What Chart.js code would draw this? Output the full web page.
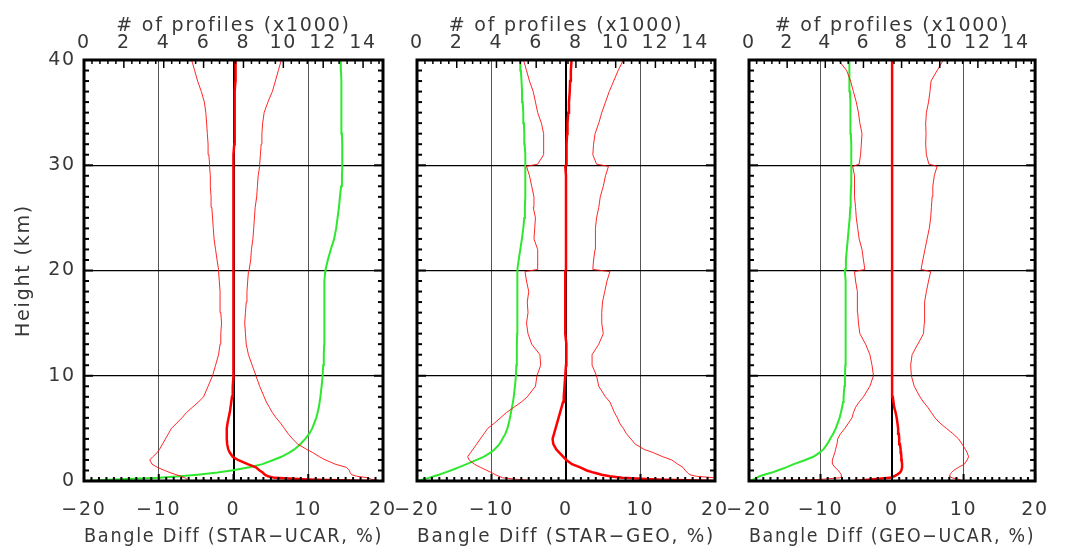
<!DOCTYPE html>
<html>
<head>
<meta charset="utf-8">
<script src="https://cdn.jsdelivr.net/npm/chart.js@4.4.0/dist/chart.umd.min.js"></script>
<style>
html,body{margin:0;padding:0;background:#fff;}
#wrap{position:relative;width:1067px;height:553px;overflow:hidden;}
canvas{position:absolute;left:0;top:0;}
</style>
</head>
<body>
<div id="wrap">
<canvas id="c0" width="1067" height="553"></canvas>
<canvas id="c1" width="1067" height="553"></canvas>
<canvas id="c2" width="1067" height="553"></canvas>
</div>
<script>
// ---------- DATA ----------
const HEIGHTS = [0,0.15,0.3,0.45,0.6,0.8,1.0,1.3,1.6,2.0,
 2.3,2.7,3.0,3.5,4.0,4.5,5.0,5.5,6.0,6.5,
 7.0,7.5,8.0,9,10,11,12,13,14,15,
 16,17,18,19,19.9,20.1,21,22,23,24,
 25,26,27,28,29,29.9,30.1,31,32,33,
 34,35,36,37,38,39,40];

const X_TICK_LABELS_TOP = [0,2,4,6,8,10,12,14];

const X_TITLES = ['Bangle Diff (STAR\u2212UCAR, %)','Bangle Diff (STAR\u2212GEO, %)','Bangle Diff (GEO\u2212UCAR, %)'];
const TOP_TITLE = '# of profiles (x1000)';
const Y_TITLE = 'Height (km)';

// STAR-UCAR
const SU_COUNT = [0,1.5,3.8,4.8,5.7,6.7,7.4,8.3,8.95,9.5,
 9.9,10.3,10.55,10.85,11.1,11.3,11.45,11.55,11.65,11.72,
 11.78,11.82,11.86,11.92,11.97,12.0,12.03,12.05,12.05,12.05,
 12.05,12.06,12.07,12.08,12.1,12.12,12.23,12.38,12.55,12.65,
 12.72,12.79,12.84,12.9,12.94,12.96,12.96,12.96,12.95,12.94,
 12.93,12.92,12.91,12.9,12.9,12.89,12.88];
const SU_LO = [-6.0,-6.2,-6.5,-7.0,-7.7,-8.5,-9.2,-10.2,-10.9,-11.2,
 -10.8,-10.2,-9.9,-9.5,-9.1,-8.7,-8.3,-7.6,-6.9,-6.3,
 -5.5,-4.7,-4.0,-3.4,-2.8,-2.4,-2.0,-1.8,-1.7,-1.6,
 -1.7,-1.8,-1.8,-1.9,-2.0,-2.0,-2.2,-2.4,-2.6,-2.7,
 -2.8,-2.9,-3.0,-3.1,-3.1,-3.2,-3.2,-3.3,-3.4,-3.5,
 -3.6,-3.7,-3.9,-4.3,-4.8,-5.2,-5.6];
const SU_HI = [20,18.5,18.0,16.5,15.8,15.6,15.5,15.1,13.6,12.3,
 11.5,10.6,9.8,8.6,7.9,7.3,6.8,6.3,5.7,5.2,
 4.8,4.4,4.1,3.5,3.0,2.5,2.0,1.7,1.6,1.5,
 1.6,1.7,1.8,1.9,2.0,2.1,2.3,2.4,2.6,2.7,
 2.8,2.9,3.1,3.2,3.3,3.5,3.5,3.6,3.7,3.8,
 3.9,4.1,4.6,5.2,5.6,6.0,6.4];
const SU_MEAN = [18,10,5.5,4.6,4.2,3.9,3.5,3.0,1.9,0.6,
 -0.1,-0.5,-0.7,-0.85,-0.9,-0.9,-0.9,-0.8,-0.65,-0.5,
 -0.4,-0.3,-0.2,-0.1,0,0,0,0,-0.05,-0.05,
 -0.05,-0.05,-0.05,-0.05,-0.05,0,0,0,0,0,
 0,0,0,0,0,0,0.05,0.05,0.1,0.1,
 0.15,0.15,0.2,0.2,0.25,0.25,0.3];

// STAR-GEO
const SG_COUNT = [0,0.3,0.6,0.85,1.1,1.4,1.7,2.1,2.5,3.0,
 3.35,3.7,3.9,4.15,4.3,4.45,4.55,4.62,4.68,4.73,
 4.78,4.83,4.87,4.93,4.98,5.0,5.02,5.03,5.04,5.05,
 5.05,5.05,5.05,5.05,5.05,5.06,5.12,5.2,5.28,5.35,
 5.4,5.43,5.45,5.46,5.46,5.45,5.45,5.44,5.42,5.4,
 5.38,5.35,5.32,5.29,5.26,5.23,5.2];
const SG_LO = [-3.5,-6.5,-8.5,-9.0,-9.5,-10.0,-10.6,-11.5,-12.3,-13.0,
 -13.2,-12.8,-12.5,-12.0,-11.5,-11.0,-10.5,-9.6,-8.8,-8.0,
 -7.0,-6.0,-5.2,-4.1,-3.9,-3.4,-3.5,-4.6,-5.1,-5.3,
 -5.1,-5.2,-5.0,-5.3,-5.5,-3.8,-3.8,-3.8,-4.3,-4.2,
 -4.1,-4.4,-4.3,-4.6,-4.9,-5.3,-3.8,-3.0,-3.0,-3.0,
 -3.3,-3.8,-4.1,-4.4,-4.9,-5.3,-5.7];
const SG_HI = [20,20,20,17.5,16.6,16.3,16.0,15.7,15.0,14.2,
 13.0,11.7,10.5,9.3,8.7,8.1,7.7,7.2,6.9,6.5,
 6.2,5.9,5.3,4.4,4.1,3.5,3.5,4.4,5.0,4.8,
 4.8,4.9,5.2,5.5,5.9,3.6,3.7,3.9,3.9,4.0,
 4.1,4.4,4.6,5.0,5.3,5.7,4.1,3.6,3.7,3.9,
 4.4,4.8,5.3,5.8,6.4,7.0,7.7];
const SG_MEAN = [20,12.2,7.5,5.9,4.8,3.7,2.8,1.9,0.8,0.05,
 -0.35,-0.9,-1.3,-1.7,-1.8,-1.6,-1.4,-1.2,-1.0,-0.8,
 -0.6,-0.4,-0.3,-0.2,-0.1,0,0.1,0,-0.1,-0.1,
 -0.1,-0.1,-0.1,-0.1,-0.1,0,0,0,0,0,
 0,0,0,0,0,-0.1,0.05,0.05,0.1,0.15,
 0.2,0.3,0.4,0.5,0.55,0.65,0.75];

// GEO-UCAR
const GU_COUNT = [0,0.25,0.4,0.55,0.8,1.2,1.5,1.95,2.35,2.95,
 3.37,3.7,3.9,4.1,4.25,4.42,4.55,4.65,4.75,4.82,
 4.88,4.93,4.96,5.0,5.03,5.05,5.07,5.08,5.08,5.08,
 5.07,5.06,5.05,5.04,5.03,5.04,5.08,5.13,5.18,5.23,
 5.28,5.31,5.33,5.35,5.36,5.37,5.37,5.36,5.35,5.34,
 5.33,5.32,5.3,5.29,5.28,5.26,5.25];
const GU_LO = [-20,-10,-7.3,-7.0,-7.1,-7.3,-7.5,-8.0,-8.3,-8.35,
 -8.2,-8.0,-7.9,-7.7,-7.6,-7.2,-6.6,-6.1,-5.6,-5.4,
 -5.1,-4.6,-4.0,-3.1,-2.6,-2.8,-3.1,-3.7,-4.5,-4.7,
 -4.8,-4.8,-4.9,-5.1,-5.25,-3.8,-4.0,-4.2,-4.6,-4.8,
 -5.0,-5.1,-5.25,-5.2,-5.3,-5.5,-4.6,-4.4,-4.3,-4.2,
 -4.5,-4.7,-5.0,-5.4,-5.8,-6.35,-7.5];
const GU_HI = [9.8,9.4,8.4,8.0,8.1,8.3,8.6,9.3,10.1,10.5,
 10.7,10.5,10.25,9.8,9.3,8.5,7.6,6.7,6.0,5.5,
 5.0,4.4,3.9,3.1,2.7,2.6,2.8,3.6,4.4,4.5,
 4.5,4.6,4.8,5.1,5.4,4.05,4.3,4.6,4.9,5.2,
 5.4,5.5,5.6,5.7,5.9,6.3,5.15,4.8,4.7,4.75,
 4.7,4.8,5.1,5.3,5.45,6.3,7.15];
const GU_MEAN = [-5.3,-3.0,-0.3,0.3,0.7,1.1,1.3,1.4,1.4,1.35,
 1.3,1.25,1.2,1.1,1.0,0.95,0.85,0.75,0.65,0.5,
 0.3,0.2,0.1,0.05,0,0,0,0,0,0,
 0,0,0,0,0,0,0,0,0,0,
 0,0,0,0,0,0.05,0.1,0.05,0,0,
 0,0,0,0,0,0,0];

const PANELS = [
  {mean: SU_MEAN, lo: SU_LO, hi: SU_HI, count: SU_COUNT, title: X_TITLES[0]},
  {mean: SG_MEAN, lo: SG_LO, hi: SG_HI, count: SG_COUNT, title: X_TITLES[1]},
  {mean: GU_MEAN, lo: GU_LO, hi: GU_HI, count: GU_COUNT, title: X_TITLES[2]}
];

// ---------- LAYOUT / STYLE ----------
const W = 1067;
const PLOT_LEFT = [84, 417, 749];
const PLOT_RIGHT = [383, 715, 1050];
const TOP_AXIS_H = 60;
const BOTTOM_AXIS_H = 72;
const TEXT = '#383838';
const FONT = {family: "'DejaVu Sans', sans-serif", size: 19};
const LETTER_SPACING = '1.8px';
const RED = '#ff0000';
const GREEN = '#2ee82e';

const fmt = v => (v < 0 ? '\u2212' + Math.abs(v) : String(v));
const pts = (xs) => xs.map((x, i) => ({x: x, y: HEIGHTS[i]}));

const spacing = {
  id: 'spacing',
  beforeUpdate(chart) { chart.ctx.letterSpacing = LETTER_SPACING; },
  beforeLayout(chart) { chart.ctx.letterSpacing = LETTER_SPACING; },
  beforeDraw(chart) { chart.ctx.letterSpacing = LETTER_SPACING; }
};

const frameTicks = {
  id: 'frameTicks',
  afterDraw(chart) {
    const {ctx, chartArea: a} = chart;
    const xs = chart.scales.x, ts = chart.scales.x2, ys = chart.scales.y;
    ctx.save();
    ctx.strokeStyle = '#000';
    ctx.lineCap = 'butt';
    const seg = (x1, y1, x2, y2) => { ctx.beginPath(); ctx.moveTo(x1, y1); ctx.lineTo(x2, y2); ctx.stroke(); };
    ctx.lineWidth = 2;
    for (let i = 0; i <= 40; i++) {
      const p = ys.getPixelForValue(ys.min + i);
      const len = i % 10 === 0 ? 9 : 5;
      seg(a.left, p, a.left + len, p);
      seg(a.right, p, a.right - len, p);
    }
    for (let i = 0; i <= 40; i++) {
      const p = xs.getPixelForValue(xs.min + i);
      const len = i % 10 === 0 ? 7 : 4;
      seg(p, a.bottom, p, a.bottom - len);
    }
    ctx.lineWidth = 1.5;
    for (let i = 0; i * 0.4 <= ts.max + 1e-9; i++) {
      const p = ts.getPixelForValue(i * 0.4);
      const len = i % 5 === 0 ? 8 : 4;
      seg(p, a.top, p, a.top + len);
    }
    ctx.lineWidth = 3;
    ctx.strokeRect(a.left, a.top, a.right - a.left, a.bottom - a.top);
    ctx.restore();
  }
};

PANELS.forEach((P, k) => {
  const first = k === 0;
  new Chart(document.getElementById('c' + k), {
    type: 'scatter',
    data: {
      datasets: [
        {data: pts(P.lo), borderColor: 'rgba(255,0,0,0.85)', borderWidth: 1, xAxisID: 'x', yAxisID: 'y'},
        {data: pts(P.hi), borderColor: 'rgba(255,0,0,0.85)', borderWidth: 1, xAxisID: 'x', yAxisID: 'y'},
        {data: pts(P.mean), borderColor: RED, borderWidth: 2.5, xAxisID: 'x', yAxisID: 'y'},
        {data: pts(P.count), borderColor: GREEN, borderWidth: 2, xAxisID: 'x2', yAxisID: 'y'}
      ]
    },
    options: {
      responsive: false,
      animation: false,
      devicePixelRatio: 1,
      showLine: true,
      elements: {point: {radius: 0, hoverRadius: 0}, line: {tension: 0, fill: false}},
      layout: {autoPadding: false, padding: {left: 0, right: W - PLOT_RIGHT[k], top: 0, bottom: 0}},
      plugins: {legend: {display: false}, tooltip: {enabled: false}},
      events: [],
      scales: {
        x: {
          type: 'linear', position: 'bottom', min: -20, max: 20,
          ticks: {stepSize: 10, color: TEXT, font: FONT, padding: 18, maxRotation: 0, callback: v => fmt(v)},
          grid: {drawTicks: false,
                 color: c => (c.tick && c.tick.value === 0 ? '#000' : '#555'),
                 lineWidth: c => (c.tick && c.tick.value === 0 ? 2 : 1)},
          border: {display: false},
          title: {display: true, text: P.title, color: TEXT, font: FONT, padding: {top: 0, bottom: 5}},
          afterFit: s => { s.height = BOTTOM_AXIS_H; }
        },
        x2: {
          type: 'linear', position: 'top', min: 0, max: 15,
          afterBuildTicks: s => { s.ticks = X_TICK_LABELS_TOP.map(v => ({value: v})); },
          ticks: {color: TEXT, font: FONT, padding: 6, maxRotation: 0},
          grid: {display: false, drawTicks: false},
          border: {display: false},
          title: {display: true, text: TOP_TITLE, color: TEXT, font: FONT, padding: {top: 15, bottom: 0}},
          afterFit: s => { s.height = TOP_AXIS_H; }
        },
        y: {
          type: 'linear', position: 'left', min: 0, max: 40,
          ticks: {display: first, stepSize: 10, color: TEXT, font: FONT, padding: 8},
          grid: {drawTicks: false, color: '#000', lineWidth: 1.2},
          border: {display: false},
          title: {display: first, text: Y_TITLE, color: TEXT, font: FONT, padding: {top: 13, bottom: 0}},
          afterFit: s => { s.width = PLOT_LEFT[k]; }
        }
      }
    },
    plugins: [spacing, frameTicks]
  });
});
</script>
</body>
</html>
